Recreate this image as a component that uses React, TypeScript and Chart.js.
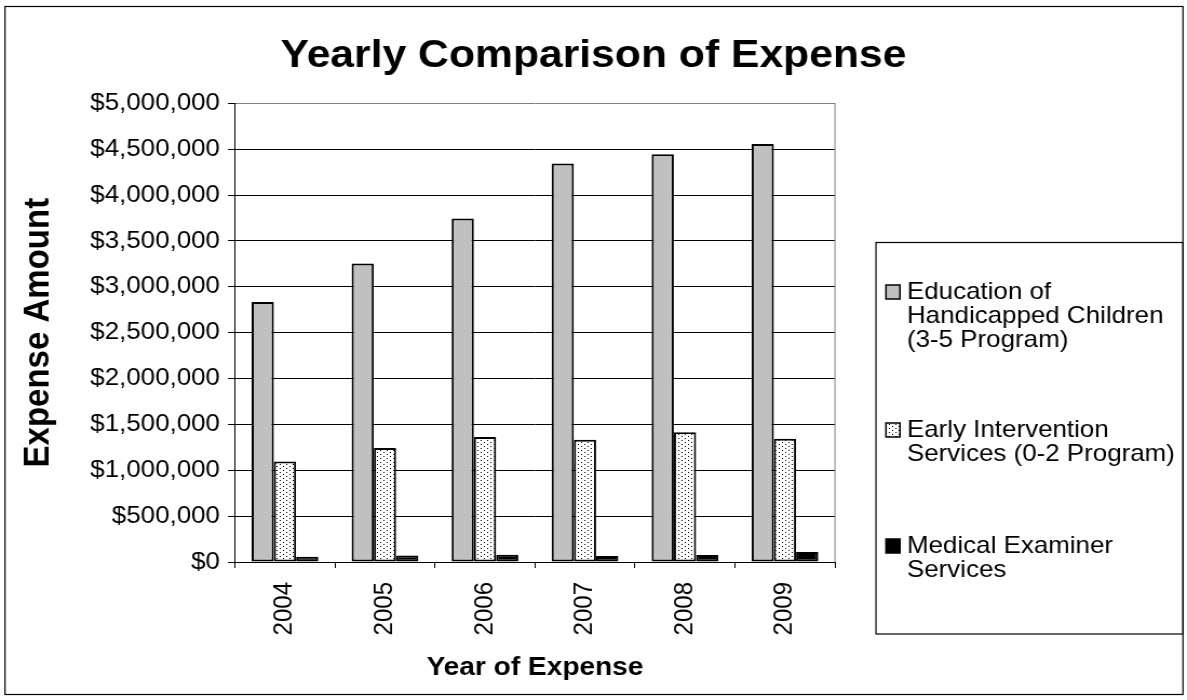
import React, { useEffect, useRef } from "react";
import { Chart, registerables } from "chart.js";

Chart.register(...registerables);

// ---------- data ----------
const YEARS = ["2004", "2005", "2006", "2007", "2008", "2009"];
const SERIES_NAMES = [
  "Education of Handicapped Children (3-5 Program)",
  "Early Intervention Services (0-2 Program)",
  "Medical Examiner Services",
];
const EDUCATION = [2835000, 3255000, 3745000, 4345000, 4445000, 4555000];
const EARLY_INTERVENTION = [1095000, 1243000, 1362000, 1333000, 1414000, 1344000];
const MEDICAL_EXAMINER = [58000, 72000, 80000, 65000, 75000, 108000];
const Y_MIN = 0;
const Y_MAX = 5000000;
const Y_STEP = 500000;
const CHART_TITLE = "Yearly Comparison of Expense";
const X_TITLE = "Year of Expense";
const Y_TITLE = "Expense Amount";

// ---------- layout ----------
const S = 1.08; // horizontal stretch of the whole picture
const OUT_W = 1187;
const OUT_H = 700;
const W = Math.round(OUT_W / S);
const px = (x: number) => (x * W) / OUT_W;
const FONT = "'Liberation Sans', Arial, Helvetica, sans-serif";
const LABEL_SIZE = 24;

const PLOT_RIGHT = 835;
const PLOT_LEFT = 235;
const PLOT_TOP = 103.3;
const PLOT_BOTTOM = 562;
const X_AXIS_H = 100;

function makeDots(): CanvasPattern | string {
  const c = document.createElement("canvas");
  c.width = 6;
  c.height = 4;
  const g = c.getContext("2d");
  if (!g) return "#ddd";
  g.fillStyle = "#fff";
  g.fillRect(0, 0, 6, 4);
  g.fillStyle = "#000";
  g.fillRect(1, 0, 1, 1);
  g.fillRect(4, 2, 1, 1);
  const p = g.createPattern(c, "repeat");
  return p || "#ddd";
}

function wrap(ctx: CanvasRenderingContext2D, text: string, maxW: number): string[] {
  const words = text.split(" ");
  const lines: string[] = [];
  let cur = "";
  for (const w of words) {
    const t = cur ? cur + " " + w : w;
    if (ctx.measureText(t).width > maxW && cur) {
      lines.push(cur);
      cur = w;
    } else cur = t;
  }
  if (cur) lines.push(cur);
  return lines;
}

const decor = {
  id: "decor",
  afterDraw(chart: any) {
    const ctx: CanvasRenderingContext2D = chart.ctx;
    const { left, right, top, bottom } = chart.chartArea;
    ctx.save();
    // plot area right border (gray)
    ctx.strokeStyle = "#808080";
    ctx.lineWidth = 1;
    ctx.beginPath();
    ctx.moveTo(right, top);
    ctx.lineTo(right, bottom);
    ctx.stroke();

    // outer chart border
    ctx.strokeStyle = "#000";
    ctx.lineWidth = 1.2;
    ctx.strokeRect(px(5), 6.5, px(1183) - px(5), 688);

    // title
    ctx.fillStyle = "#000";
    ctx.textAlign = "center";
    ctx.textBaseline = "middle";
    ctx.font = `bold 39.5px ${FONT}`;
    ctx.fillText(CHART_TITLE, W / 2, 56);

    // axis titles
    ctx.font = `bold 26px ${FONT}`;
    ctx.fillText(X_TITLE, (left + right) / 2, 668);
    ctx.save();
    ctx.font = `bold 33px ${FONT}`;
    ctx.translate(px(39), (top + bottom) / 2);
    ctx.rotate(-Math.PI / 2);
    ctx.fillText(Y_TITLE, 0, 0);
    ctx.restore();

    // legend
    const lx = px(876);
    const lr = px(1183);
    ctx.strokeStyle = "#000";
    ctx.lineWidth = 1.2;
    ctx.strokeRect(lx, 242.5, lr - lx, 634 - 242.5);
    ctx.font = `${LABEL_SIZE}px ${FONT}`;
    ctx.textAlign = "left";
    const firstLine = [292, 430, 546];
    const lineH = 24;
    chart.data.datasets.forEach((ds: any, i: number) => {
      const y0 = firstLine[i];
      ctx.fillStyle = ds.backgroundColor;
      ctx.fillRect(px(886), y0 - 7, px(14), 14);
      ctx.strokeStyle = "#000";
      ctx.lineWidth = 1.5;
      ctx.strokeRect(px(886), y0 - 7, px(14), 14);
      ctx.fillStyle = "#000";
      const lines = wrap(ctx, ds.label, px(1186) - px(907));
      lines.forEach((ln, k) => ctx.fillText(ln, px(907), y0 + k * lineH));
    });
    ctx.restore();
  },
};

export default function App() {
  const ref = useRef<HTMLCanvasElement | null>(null);

  useEffect(() => {
    const canvas = ref.current;
    if (!canvas) return;
    document.body.style.margin = "0";
    const dots = makeDots();
    const chart = new Chart(canvas, {
      type: "bar",
      data: {
        labels: YEARS,
        datasets: [
          { label: SERIES_NAMES[0], data: EDUCATION, backgroundColor: "#C0C0C0", borderColor: "#000", borderWidth: 2, borderSkipped: false },
          { label: SERIES_NAMES[1], data: EARLY_INTERVENTION, backgroundColor: dots as any, borderColor: "#000", borderWidth: 2, borderSkipped: false },
          { label: SERIES_NAMES[2], data: MEDICAL_EXAMINER, backgroundColor: "#000", borderColor: "#000", borderWidth: 2, borderSkipped: false },
        ],
      },
      options: {
        responsive: false,
        animation: false,
        devicePixelRatio: 1,
        layout: {
          padding: {
            left: 0,
            top: PLOT_TOP,
            right: W - px(PLOT_RIGHT),
            bottom: OUT_H - PLOT_BOTTOM - X_AXIS_H,
          },
        },
        datasets: { bar: { categoryPercentage: 2 / 3, barPercentage: 1 } },
        plugins: {
          legend: { display: false },
          title: { display: false },
          tooltip: { enabled: false },
        },
        scales: {
          x: {
            grid: { offset: true, drawOnChartArea: false, tickLength: 6, tickColor: "#000", color: "#000" },
            border: { display: true, color: "#000", width: 1 },
            ticks: {
              autoSkip: false,
              minRotation: 90,
              maxRotation: 90,
              color: "#000",
              padding: 14,
              font: { family: FONT, size: LABEL_SIZE },
            },
            afterFit: (s: any) => {
              s.height = X_AXIS_H;
            },
          },
          y: {
            min: Y_MIN,
            max: Y_MAX,
            grid: {
              color: (c: any) => (c.tick && c.tick.value === Y_MAX ? "#808080" : "#000"),
              tickColor: "#000",
              tickLength: px(7),
            },
            border: { display: true, color: "#000", width: 1 },
            ticks: {
              stepSize: Y_STEP,
              color: "#000",
              padding: px(8),
              font: { family: FONT, size: LABEL_SIZE },
              callback: (v: any) => "$" + Number(v).toLocaleString("en-US"),
            },
            afterFit: (s: any) => {
              s.width = px(PLOT_LEFT);
            },
          },
        },
      },
      plugins: [decor],
    } as any);
    return () => chart.destroy();
  }, []);

  return (
    <canvas
      ref={ref}
      width={W}
      height={OUT_H}
      style={{ position: "fixed", left: 0, top: 0, width: OUT_W + "px", height: OUT_H + "px", background: "#fff" }}
    />
  );
}
